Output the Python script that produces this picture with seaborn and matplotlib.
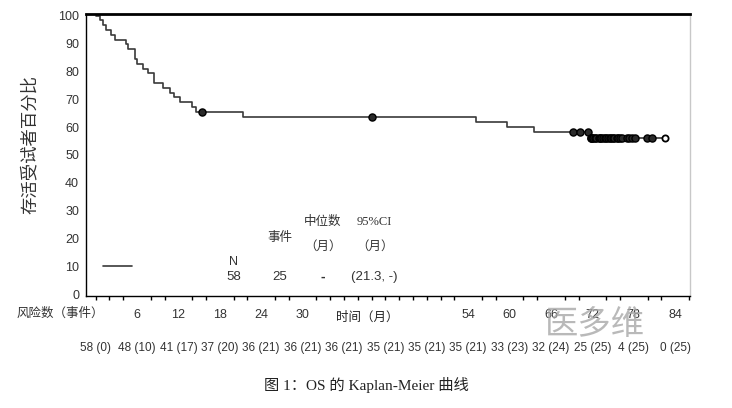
import numpy as np
import pandas as pd
import matplotlib
matplotlib.use("Agg")
import matplotlib.pyplot as plt
import seaborn as sns

# event times (months)
event_times = [0.64, 1.1, 1.5, 2.3, 2.8, 4.4, 4.7, 5.7, 5.75, 5.95,
               6.9, 7.6, 8.4, 8.45, 9.8, 10.8, 11.3,
               12.2, 13.9, 14.6,
               21.4, 55.2, 59.6, 63.6, 71.6]
# censored times (months)
censor_times = [15.4, 40.1,
                69.2, 70.2, 71.4, 71.75, 71.85, 71.95,
                72.1, 72.4, 72.6, 72.9, 73.1, 73.3, 73.6, 73.8, 74.0, 74.3,
                74.5, 74.7, 75.0, 75.2, 75.5, 75.7, 76.0, 76.3, 77.0, 77.3, 77.7,
                78.2, 79.9, 80.6, 82.5]

# risk table under the axis
risk_months = [0, 6, 12, 18, 24, 30, 36, 42, 48, 54, 60, 66, 72, 78, 84]
risk_n = [58, 48, 41, 37, 36, 36, 36, 35, 35, 35, 33, 32, 25, 4, 0]
risk_events = [0, 10, 17, 20, 21, 21, 21, 21, 21, 21, 23, 24, 25, 25, 25]

x_tick_labels = {6: "6", 12: "12", 18: "18", 24: "24", 30: "30",
                 54: "54", 60: "60", 66: "66", 72: "72", 78: "78", 84: "84"}

summary_n = "58"
summary_events = "25"
summary_median = "-"
summary_ci = "(21.3, -)"

# Kaplan-Meier estimate
df = pd.DataFrame({"t": event_times + censor_times,
                   "event": [1] * len(event_times) + [0] * len(censor_times)})
df = df.sort_values("t").reset_index(drop=True)
n_at_risk = len(df)
surv = 100.0
step_x, step_y = [0.0], [100.0]
cens_x, cens_y = [], []
for t, grp in df.groupby("t", sort=True):
    d = grp["event"].sum()
    if d > 0:
        surv = surv * (1 - d / n_at_risk)
        step_x.append(t)
        step_y.append(surv)
    c = len(grp) - d
    for _ in range(c):
        cens_x.append(t)
        cens_y.append(surv)
    n_at_risk -= len(grp)
step_x.append(max(df["t"]))
step_y.append(surv)

sns.set_style("white")
plt.rcParams["font.family"] = ["Liberation Sans", "Noto Sans CJK SC", "DejaVu Sans"]

fig = plt.figure(figsize=(7.32, 4.08), dpi=100)
ax = fig.add_axes([0.1175, 0.2745, 0.8251, 0.6912])

sns.lineplot(x=step_x, y=step_y, drawstyle="steps-post", estimator=None,
             sort=False, color="#3a3a3a", linewidth=1.2, ax=ax)
sns.scatterplot(x=cens_x[:-1], y=cens_y[:-1], marker="o", s=26,
                color="#2a2a2a", edgecolor="black", linewidth=1.0, ax=ax, zorder=3)
sns.scatterplot(x=cens_x[-1:], y=cens_y[-1:], marker="o", s=20,
                color="white", edgecolor="black", linewidth=1.3, ax=ax, zorder=3)

ax.set_xlim(-1.39, 86.15)
ax.set_ylim(-0.6, 100.6)
ax.set_yticks(range(0, 101, 10))
ax.set_xticks(sorted(x_tick_labels))
ax.set_xticklabels([x_tick_labels[k] for k in sorted(x_tick_labels)])
ax.set_xticks(range(0, 87, 2), minor=True)
ax.tick_params(axis="both", which="major", direction="out", length=3, width=1,
               color="black", labelsize=9, labelcolor="#333333", pad=2)
ax.tick_params(axis="x", which="minor", direction="out", length=3, width=1,
               color="black", bottom=True)
ax.tick_params(axis="x", which="major", pad=6)
ax.set_xlabel("")
ax.set_ylabel("")

for side in ["left", "bottom"]:
    ax.spines[side].set_color("black")
    ax.spines[side].set_linewidth(1.0)
ax.spines["top"].set_color("black")
ax.spines["top"].set_linewidth(2.0)
ax.spines["right"].set_color("#c8c8c8")
ax.spines["right"].set_linewidth(1.0)

# legend / summary table inside the plot
cjk = ["Noto Sans CJK SC", "DejaVu Sans"]
ax.plot([0.028, 0.076], [0.105, 0.105], transform=ax.transAxes,
        color="#3a3a3a", linewidth=1.2)
ax.text(0.245, 0.121, "N", transform=ax.transAxes, ha="center", va="center",
        fontsize=9, color="#333333")
ax.text(0.245, 0.068, summary_n, transform=ax.transAxes, ha="center", va="center",
        fontsize=9.5, color="#333333")
ax.text(0.321, 0.207, "事件", transform=ax.transAxes, ha="center", va="center",
        fontsize=9, color="#333333", family=cjk)
ax.text(0.321, 0.068, summary_events, transform=ax.transAxes, ha="center",
        va="center", fontsize=9.5, color="#333333")
ax.text(0.392, 0.264, "中位数", transform=ax.transAxes, ha="center", va="center",
        fontsize=9, color="#333333", family=cjk)
ax.text(0.392, 0.175, "（月）", transform=ax.transAxes, ha="center", va="center",
        fontsize=9, color="#333333", family=cjk)
ax.text(0.392, 0.068, summary_median, transform=ax.transAxes, ha="center",
        va="center", fontsize=10, color="#333333", fontweight="bold")
ax.text(0.478, 0.264, "95%CI", transform=ax.transAxes, ha="center", va="center",
        fontsize=9, color="#333333", family=["Liberation Serif", "Noto Sans CJK SC"])
ax.text(0.478, 0.175, "（月）", transform=ax.transAxes, ha="center", va="center",
        fontsize=9, color="#333333", family=cjk)
ax.text(0.478, 0.068, summary_ci, transform=ax.transAxes, ha="center",
        va="center", fontsize=9.5, color="#333333")

# labels outside the axes
fig.text(0.041, 0.645, "存活受试者百分比", rotation=90, ha="center", va="center",
         fontsize=12.5, color="#333333", family=cjk)
fig.text(0.023, 0.232, "风险数（事件）", ha="left", va="center",
         fontsize=9, color="#333333", family=cjk)
fig.text(0.502, 0.222, "时间（月）", ha="center", va="center",
         fontsize=9, color="#222222", family=cjk)

# risk numbers
for m, n, e in zip(risk_months, risk_n, risk_events):
    ax.text(m, -0.185, f"{n} ({e})", transform=ax.get_xaxis_transform(),
            ha="center", va="center", fontsize=8.5, color="#333333")

# watermark
fig.text(0.813, 0.205, "医多维", ha="center", va="center", fontsize=24,
         color="#a8a8a8", alpha=0.8, family=cjk)

fig.text(0.5, 0.056, "图 1：OS 的 Kaplan-Meier 曲线", ha="center", va="center",
         fontsize=11, color="#222222", family=["Liberation Serif", "Noto Sans CJK SC"])

fig.savefig("out.png", dpi=100)
